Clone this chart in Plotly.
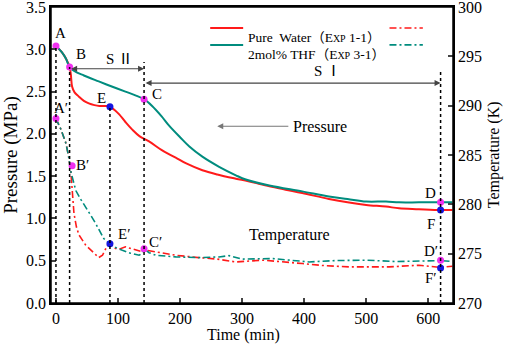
import plotly.graph_objects as go

# ---------------- data ----------------
# Pressure (MPa) vs time (min)
t_p_water = [0, 10, 16, 22, 24, 26, 30, 37, 45, 53, 62, 70, 80, 87, 95, 102, 112, 123, 135, 150,
             170, 182, 193, 210, 236, 260, 290, 310, 344, 370, 397, 440, 470, 500, 532, 553, 585, 620, 639]
p_water = [3.04, 2.96, 2.89, 2.79, 2.70, 2.56, 2.49, 2.44, 2.39, 2.36, 2.34, 2.33, 2.33, 2.32, 2.28, 2.23,
           2.14, 2.05, 1.97, 1.91, 1.81, 1.76, 1.72, 1.65, 1.57, 1.52, 1.47, 1.44, 1.38, 1.34, 1.30, 1.23,
           1.19, 1.16, 1.14, 1.12, 1.11, 1.10, 1.10]

t_p_thf = [0, 10, 16, 22, 30, 45, 69, 90, 112, 130, 142, 155, 170, 182, 200, 215, 236, 263, 290, 306,
           344, 397, 440, 470, 500, 532, 553, 585, 620, 639]
p_thf = [3.04, 2.96, 2.89, 2.79, 2.74, 2.69, 2.62, 2.56, 2.50, 2.45, 2.41, 2.33, 2.21, 2.10, 1.96, 1.85,
         1.73, 1.61, 1.51, 1.46, 1.39, 1.32, 1.26, 1.23, 1.20, 1.20, 1.19, 1.19, 1.19, 1.19]

# Temperature (K) vs time (min)
t_T_water = [0, 8, 16, 20, 24, 26, 29, 33, 37, 48, 59, 69, 75, 83, 88, 96, 104, 112, 122, 131, 139, 145,
             161, 193, 230, 260, 290, 333, 397, 430, 473, 537, 585, 620, 639]
T_water = [288.7, 287.6, 286.2, 285.0, 283.3, 281.5, 279.1, 277.7, 276.9, 275.86, 275.18, 274.6, 274.84,
           275.86, 276.03, 275.52, 275.5, 275.69, 275.5, 275.35, 275.18, 275.35, 275.18, 274.84, 274.6,
           274.45, 274.16, 274.34, 274.0, 273.8, 273.66, 273.66, 273.83, 273.6, 273.73]

t_T_thf = [0, 8, 16, 20, 24, 28, 32, 40, 48, 56, 64, 77, 87, 97, 107, 120, 134, 138, 142, 150, 161, 193,
           230, 263, 279, 300, 350, 408, 450, 500, 550, 600, 620, 639]
T_thf = [288.7, 287.6, 286.2, 285.0, 283.3, 282.2, 281.4, 280.5, 279.75, 278.9, 278.06, 276.54, 275.96,
         275.6, 275.35, 275.05, 274.84, 275.0, 275.5, 275.1, 274.84, 274.67, 274.6, 274.67, 274.8, 274.45,
         274.5, 274.16, 274.3, 274.34, 274.2, 274.25, 274.3, 274.2]

# Marked points
p_pt_names = ["A", "B", "E", "C", "D", "F"]
p_pt_t = [0, 22, 87, 142, 620, 620]
p_pt_v = [3.04, 2.79, 2.32, 2.41, 1.19, 1.10]
p_pt_col = ["#F030F0", "#F030F0", "#1515E0", "#F030F0", "#F030F0", "#1515E0"]

T_pt_names = ["A′", "B′", "E′", "C′", "D′", "F′"]
T_pt_t = [0, 26, 87, 142, 620, 620]
T_pt_v = [288.7, 283.9, 276.0, 275.5, 274.34, 273.55]
T_pt_col = ["#F030F0", "#F030F0", "#1515E0", "#F030F0", "#F030F0", "#1515E0"]

# point label positions (time, pressure-axis value)
lab_t = [7, 40, 74, 163, 604, 604, 8, 42, 110, 161, 604, 604]
lab_v = [3.19, 2.95, 2.42, 2.47, 1.30, 0.94, 2.30, 1.63, 0.82, 0.72, 0.62, 0.29]
lab_txt = ["A", "B", "E", "C", "D", "F", "A′", "B′", "E′", "C′", "D′", "F′"]

# dashed vertical guide lines: time, top (pressure-axis value)
guide_t = [0, 22, 87, 142, 620]
guide_top = [3.04, 2.79, 2.32, 2.85, 2.76]

x_ticks = [0, 100, 200, 300, 400, 500, 600]

RED = "#FF1A1A"
TEAL = "#008C7E"
FONT = "Liberation Serif, Times New Roman, Noto Sans CJK SC, serif"

fig = go.Figure()

fig.add_trace(go.Scatter(x=t_p_water, y=p_water, mode="lines", line=dict(color=RED, width=2),
                         line_shape="spline", showlegend=False))
fig.add_trace(go.Scatter(x=t_p_thf, y=p_thf, mode="lines", line=dict(color=TEAL, width=2),
                         line_shape="spline", showlegend=False))
fig.add_trace(go.Scatter(x=t_T_water, y=T_water, mode="lines", yaxis="y2",
                         line=dict(color=RED, width=1.6, dash="7px,3px,2px,3px"), showlegend=False))
fig.add_trace(go.Scatter(x=t_T_thf, y=T_thf, mode="lines", yaxis="y2",
                         line=dict(color=TEAL, width=1.6, dash="7px,3px,2px,3px"), showlegend=False))

# guide lines
shapes = []
for gt, gtop in zip(guide_t, guide_top):
    shapes.append(dict(type="line", xref="x", yref="y", x0=gt, x1=gt, y0=0, y1=gtop,
                       line=dict(color="black", width=1.5, dash="3px,3px")))
# plot frame
shapes.append(dict(type="rect", xref="paper", yref="paper", x0=0, x1=1, y0=0, y1=1,
                   line=dict(color="black", width=1.5), layer="above"))

fig.add_trace(go.Scatter(x=p_pt_t, y=p_pt_v, mode="markers",
                         marker=dict(color=p_pt_col, size=7), showlegend=False))
fig.add_trace(go.Scatter(x=T_pt_t, y=T_pt_v, mode="markers", yaxis="y2",
                         marker=dict(color=T_pt_col, size=7), showlegend=False))

ann = []
for tx, vx, s in zip(lab_t, lab_v, lab_txt):
    ann.append(dict(x=tx, y=vx, xref="x", yref="y", text=s, showarrow=False,
                    font=dict(family=FONT, size=15, color="black")))

# phase arrows
ann.append(dict(x=142, y=2.77, ax=22, ay=2.77, xref="x", yref="y", axref="x", ayref="y",
                showarrow=True, arrowhead=2, arrowside="end+start", arrowwidth=1.2,
                arrowcolor="#444444", text=""))
ann.append(dict(x=620, y=2.60, ax=142, ay=2.60, xref="x", yref="y", axref="x", ayref="y",
                showarrow=True, arrowhead=2, arrowside="end+start", arrowwidth=1.2,
                arrowcolor="#444444", text=""))
ann.append(dict(x=102, y=2.88, xref="x", yref="y", text="S Ⅱ", showarrow=False,
                font=dict(family=FONT, size=15, color="black")))
ann.append(dict(x=437, y=2.74, xref="x", yref="y", text="S Ⅰ", showarrow=False,
                font=dict(family=FONT, size=15, color="black")))
ann.append(dict(x=260, y=2.09, ax=377, ay=2.09, xref="x", yref="y", axref="x", ayref="y",
                showarrow=True, arrowhead=2, arrowwidth=1.2, arrowcolor="#777777", text=""))
ann.append(dict(x=379, y=2.09, xref="x", yref="y", text="Pressure", showarrow=False, xanchor="left",
                font=dict(family=FONT, size=16, color="black")))
ann.append(dict(x=308, y=0.80, xref="x", yref="y", text="Temperature", showarrow=False, xanchor="left",
                font=dict(family=FONT, size=16, color="black")))

# axis titles (x and right y)
ann.append(dict(x=0.48, y=-0.108, xref="paper", yref="paper", text="Time (min)", showarrow=False,
                yanchor="middle", font=dict(family=FONT, size=16, color="black")))
ann.append(dict(x=1.13, y=0.5, xref="paper", yref="paper", text="Temperature (K)", showarrow=False,
                textangle=-90, font=dict(family=FONT, size=16, color="black")))

# legend (manual)
small_open = "<span style='font-size:10px'>"
leg_rows = [("Pure  Water（E" + small_open + "XP</span> 1-1）", RED, 0.929),
            ("2mol% THF（E" + small_open + "XP</span> 3-1）", TEAL, 0.872)]
for txt, col, yy in leg_rows:
    shapes.append(dict(type="line", xref="paper", yref="paper", x0=0.396, x1=0.478, y0=yy, y1=yy,
                       line=dict(color=col, width=2)))
    shapes.append(dict(type="line", xref="paper", yref="paper", x0=0.842, x1=0.925, y0=yy, y1=yy,
                       line=dict(color=col, width=1.6, dash="7px,3px,2px,3px")))
    ann.append(dict(x=0.486, y=yy, xref="paper", yref="paper", text=txt, showarrow=False,
                    xanchor="left", font=dict(family=FONT, size=13.5, color="black")))

fig.update_layout(
    width=512, height=345,
    margin=dict(l=51, r=59, t=7, b=42),
    paper_bgcolor="white", plot_bgcolor="white",
    font=dict(family=FONT, size=16, color="black"),
    showlegend=False,
    shapes=shapes, annotations=ann,
    xaxis=dict(range=[-8, 640], tickvals=x_ticks, ticks="inside", ticklen=5, tickwidth=1.5,
               showline=True, linewidth=1.5, linecolor="black", mirror=True, showgrid=False,
               zeroline=False, automargin=False,
               ticklabeloverflow="allow", tickfont=dict(size=16)),
    yaxis=dict(range=[0, 3.5], dtick=0.5, tickformat=".1f", ticks="inside", ticklen=5, tickwidth=1.5,
               showline=True, linewidth=1.5, linecolor="black", showgrid=False, zeroline=False,
               automargin=False, ticklabeloverflow="allow",
               title=dict(text="Pressure (MPa)", standoff=4), tickfont=dict(size=16)),
    yaxis2=dict(range=[270, 300], dtick=5, overlaying="y", side="right", ticks="inside", ticklen=5,
                tickwidth=1.5, showline=True, linewidth=1.5, linecolor="black", showgrid=False,
                automargin=False, ticklabeloverflow="allow",
                zeroline=False, tickfont=dict(size=16)),
)

fig.write_html("out.html", config={"displayModeBar": False},
               post_script="document.body.style.margin='0';")
